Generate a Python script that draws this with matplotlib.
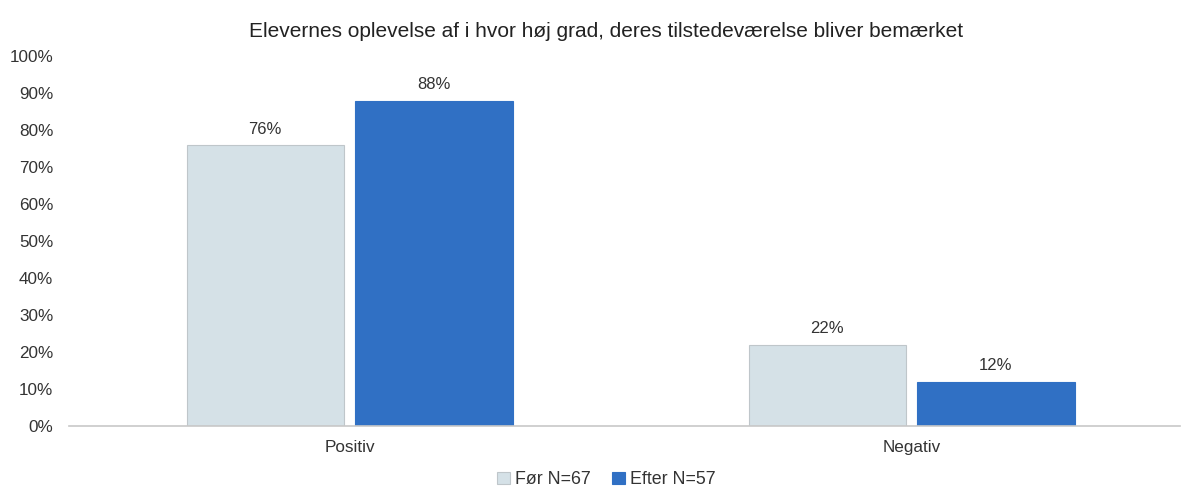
import numpy as np
import matplotlib.pyplot as plt
from matplotlib.ticker import PercentFormatter

# Data
kategorier = ['Positiv', 'Negativ']
foer = [76, 22]
efter = [88, 12]
serie_navne = ['Før N=67', 'Efter N=57']
titel = 'Elevernes oplevelse af i hvor høj grad, deres tilstedeværelse bliver bemærket'

plt.rcParams['font.family'] = ['Liberation Sans', 'DejaVu Sans']

fig = plt.figure(figsize=(11.82, 4.88), dpi=100)
ax = fig.add_axes([0.058, 0.127, 0.94, 0.758])

x = np.arange(len(kategorier))
bw = 0.28
gap = 0.02
b1 = ax.bar(x - bw/2 - gap/2, foer, bw, color='#D5E1E7', edgecolor='#BFC6CA',
            linewidth=0.8, label=serie_navne[0])
b2 = ax.bar(x + bw/2 + gap/2, efter, bw, color='#3070C4', edgecolor='#3070C4',
            linewidth=0.8, label=serie_navne[1])

for bars in (b1, b2):
    ax.bar_label(bars, labels=[f'{v}%' for v in bars.datavalues], padding=6,
                 fontsize=12, color='#333333')

ax.set_xlim(-0.5, 1.477)
ax.set_ylim(0, 100)
ax.set_yticks(np.arange(0, 101, 10))
ax.yaxis.set_major_formatter(PercentFormatter(decimals=0))
ax.set_xticks(x)
ax.set_xticklabels(kategorier)
ax.tick_params(axis='both', length=0, labelsize=12.3, colors='#333333')
ax.tick_params(axis='x', pad=10)
ax.tick_params(axis='y', pad=11)
for s in ['top', 'right', 'left']:
    ax.spines[s].set_visible(False)
ax.spines['bottom'].set_color('#C8C8C8')
ax.spines['bottom'].set_linewidth(1.2)

fig.text(0.513, 0.935, titel, fontsize=15, color='#222222', ha='center', va='center')

fig.legend(loc='center', bbox_to_anchor=(0.513, 0.017), ncol=2, frameon=False,
           fontsize=12.8, handlelength=0.7, handleheight=0.7, handletextpad=0.3,
           columnspacing=1.2, labelcolor='#333333')

fig.savefig('out.png', dpi=100)
